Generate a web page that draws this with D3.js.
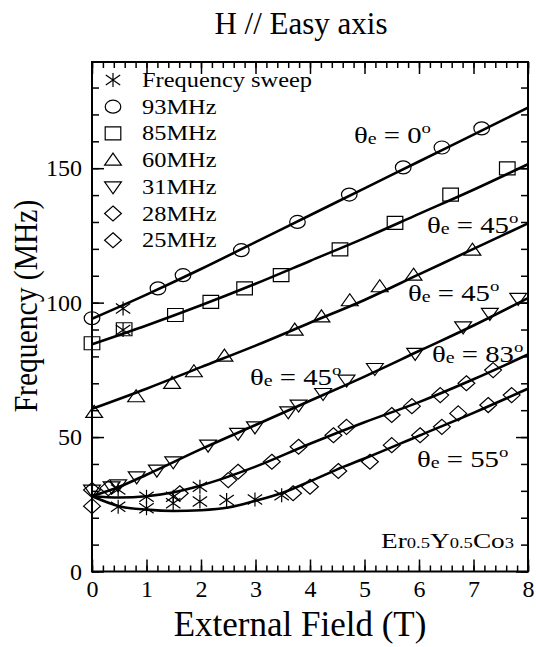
<!doctype html>
<html>
<head>
<meta charset="utf-8">
<script src="https://d3js.org/d3.v7.min.js"></script>
<style>
  body { margin: 0; background: #fff; }
  svg { display: block; font-family: "Liberation Serif", "Times New Roman", serif; }
</style>
</head>
<body>
<svg id="chart" width="536" height="647"></svg>
<script>
// points: [field (T), frequency (MHz)]
const sweep = [[0.48,30.5],[0.48,24.1],[0.57,97.8],[0.57,89.8],[1.0,27.8],[1.0,23.5],
  [1.49,27.8],[1.49,25.4],[1.98,31.5],[1.98,26],[2.47,26.6],[2.99,26.8],[3.48,28.4]];
const mhz93 = [[0,94.2],[1.21,105.3],[1.67,110.2],[2.74,119.5],[3.77,130],[4.72,140.2],
  [5.71,150.3],[6.42,157.7],[7.15,164.8]];
const mhz85 = [[0,84.9],[0.59,90.1],[1.53,95.4],[2.18,100.3],[2.8,105.3],[3.47,110.2],
  [4.55,119.8],[5.56,129.7],[6.58,140.2],[7.62,149.9]];
const mhz60 = [[0.04,59.2],[0.81,65],[1.47,70],[1.87,74.3],[2.43,80.1],[3.72,89.8],
  [4.21,94.7],[4.73,100.7],[5.28,105.9],[5.9,110.2],[6.98,119.5]];
const mhz31 = [[0,30.3],[0.36,31.5],[0.48,32.2],[0.82,35.2],[1.19,37.7],[1.49,40.8],[2.13,47],
  [2.68,51.4],[2.99,53.8],[3.6,59.4],[3.79,61.9],[4.24,66.2],[4.67,71.2],[5.19,75.5],
  [5.93,81.1],[6.81,91],[7.3,96],[7.82,101.6]];
const mhz28 = [[0,30.3],[0.3,31],[1.61,29.1],[2.5,34],[2.68,37.1],[3.3,40.8],[3.79,46.4],
  [4.43,50.7],[4.67,53.8],[5.5,58.2],[5.87,61.5],[6.39,65.6],[6.87,70],[7.36,74.9]];
const mhz25 = [[0,24.3],[3.69,29.1],[4.0,31.5],[4.52,37.4],[5.1,40.8],[5.5,47],[6.02,50.7],
  [6.42,53.8],[6.72,58.8],[7.27,61.9],[7.7,65.6]];

// calculated curves
const fit0   = [[0,94],[1,103],[2,112.5],[3,122.5],[4,132.5],[5,142.5],[6,152.5],[7,162.5],[8,172.5]];
const fit45a = [[0,84.5],[1,91.5],[2,99],[3,107],[4,115.5],[5,124],[6,133],[7,142],[8,151.5]];
const fit45b = [[0,60.5],[1,68],[2,76],[3,84],[4,92.5],[5,101],[6,110.5],[7,120],[8,129.5]];
const fit45c = [[0,28],[0.5,31.5],[1,36],[2,45.5],[3,54.5],[4,63.5],[5,72.5],[6,82],[7,91.5],[8,101.7]];
const fit83  = [[0,28],[0.5,27.5],[1,28],[1.5,29.5],[2,32],[3,39],[4,47.5],[5,55.5],[6,63],[7,71.5],[8,80.7]];
const fit55  = [[0,28],[0.5,24.3],[1,23],[1.5,22.5],[2,22.8],[2.5,23.8],[3,26.3],[3.5,29.3],
  [4,33.5],[4.5,38],[5,42],[6,50.5],[7,59],[8,68]];

const legendNames = ["Frequency sweep", "93MHz", "85MHz", "60MHz", "31MHz", "28MHz", "25MHz"];
const xMajor = [0,1,2,3,4,5,6,7,8];
const yMajor = [0,50,100,150];

const font = '"Liberation Serif", "Times New Roman", serif';
const svg = d3.select("#chart");
const plotL = 92, plotR = 528, plotT = 62, plotB = 571.5;

const x = d3.scaleLinear().domain([0, 8]).range([plotL, plotR]);
const y = d3.scaleLinear().domain([0, 189.5]).range([plotB, plotT]);

const shapes = {
  star: "M0,-7V7M-6,-5L6,5M-6,5L6,-5",
  circle: (() => { const p = d3.path(); p.arc(0, 0, 6.5, 0, 2 * Math.PI); p.closePath(); return p.toString(); })(),
  square: "M-6.5,-6.5H6.5V6.5H-6.5Z",
  up: "M0,-7L7,5L-7,5Z",
  down: "M0,7L7,-5L-7,-5Z",
  diamond: "M0,-7.5L7,0L0,7.5L-7,0Z"
};

const series = [
  { pts: sweep, shape: "star" },
  { pts: mhz93, shape: "circle" },
  { pts: mhz85, shape: "square" },
  { pts: mhz60, shape: "up" },
  { pts: mhz31, shape: "down" },
  { pts: mhz28, shape: "diamond" },
  { pts: mhz25, shape: "diamond" }
];

// curves
const line = d3.line().x(d => x(d[0])).y(d => y(d[1])).curve(d3.curveMonotoneX);
svg.append("g").selectAll("path")
  .data([fit0, fit45a, fit45b, fit45c, fit83, fit55])
  .join("path")
  .attr("d", line)
  .attr("fill", "none")
  .attr("stroke", "#000")
  .attr("stroke-width", 2.6);

// markers
function marker(sel, shape) {
  sel.append("path")
    .attr("d", shapes[shape])
    .attr("fill", "none")
    .attr("stroke", "#000")
    .attr("stroke-width", 1.2)
    .attr("vector-effect", "non-scaling-stroke");
}
series.forEach(s => {
  svg.append("g").selectAll("g")
    .data(s.pts)
    .join("g")
    .attr("transform", d => `translate(${x(d[0])},${y(d[1])}) scale(1.2,1)`)
    .each(function () { marker(d3.select(this), s.shape); });
});

// frame
svg.append("rect")
  .attr("x", plotL).attr("y", plotT)
  .attr("width", plotR - plotL).attr("height", plotB - plotT)
  .attr("fill", "none").attr("stroke", "#000").attr("stroke-width", 2);

// ticks, all pointing inward
function ticks(axis, pos, values, size) {
  svg.append("g").attr("transform", pos)
    .call(axis.tickValues(values).tickSize(size).tickFormat(""))
    .call(g => g.select(".domain").remove())
    .selectAll("line").attr("stroke-width", 1.5);
}
const xMinor = d3.range(0, 41).map(i => i / 5);
const yMinor = d3.range(0, 19).map(i => i * 10);
ticks(d3.axisBottom(x), `translate(0,${plotB})`, xMinor, -6);
ticks(d3.axisTop(x), `translate(0,${plotT})`, xMinor, -6);
ticks(d3.axisLeft(y), `translate(${plotL},0)`, yMinor, -7);
ticks(d3.axisRight(y), `translate(${plotR},0)`, yMinor, -7);
ticks(d3.axisTop(x), `translate(0,${plotT})`, xMajor, -12);
ticks(d3.axisRight(y), `translate(${plotR},0)`, yMajor, -12);

svg.append("g").attr("transform", `translate(0,${plotB})`)
  .call(d3.axisBottom(x).tickValues(xMajor).tickSize(-12).tickPadding(8).tickFormat(d3.format("d")))
  .call(g => g.select(".domain").remove())
  .attr("font-size", 24).attr("font-family", font)
  .call(g => g.selectAll("line").attr("stroke-width", 1.5));

svg.append("g").attr("transform", `translate(${plotL},0)`)
  .call(d3.axisLeft(y).tickValues(yMajor).tickSize(-12).tickPadding(10).tickFormat(d3.format("d")))
  .call(g => g.select(".domain").remove())
  .attr("font-size", 24).attr("font-family", font)
  .call(g => g.selectAll("line").attr("stroke-width", 1.5));

// titles
svg.append("text").attr("x", 301).attr("y", 34)
  .attr("text-anchor", "middle").attr("font-size", 31)
  .text("H // Easy axis");

svg.append("text").attr("x", 300).attr("y", 636)
  .attr("text-anchor", "middle").attr("font-size", 35)
  .text("External Field (T)");

svg.append("text")
  .attr("transform", "translate(37,306) rotate(-90) scale(0.87,1)")
  .attr("text-anchor", "middle").attr("font-size", 34)
  .text("Frequency (MHz)");

// legend
const legend = svg.append("g");
legendNames.forEach((name, i) => {
  const ly = 80 + i * 26.7;
  const g = legend.append("g").attr("transform", `translate(113,${ly}) scale(1.2,1)`);
  marker(g, series[i].shape);
  legend.append("text")
    .attr("transform", `translate(142,${ly + 7}) scale(1.22,1)`)
    .attr("font-size", 20)
    .text(name);
});

// angle labels
const angleLabels = [
  { x: 354, y: 143, deg: "0" },
  { x: 427, y: 233, deg: "45" },
  { x: 408, y: 301, deg: "45" },
  { x: 250, y: 385, deg: "45" },
  { x: 432, y: 362, deg: "83" },
  { x: 417, y: 467, deg: "55" }
];
angleLabels.forEach(a => {
  const t = svg.append("text")
    .attr("transform", `translate(${a.x},${a.y}) scale(1.25,1)`)
    .attr("font-size", 23);
  t.append("tspan").text("\u03b8");
  t.append("tspan").attr("font-size", 16).attr("dy", 1).text("e");
  t.append("tspan").attr("dy", -1).text(" = " + a.deg);
  t.append("tspan").attr("font-size", 15).attr("dy", -10).text("o");
});

// compound label
const comp = svg.append("text")
  .attr("transform", "translate(514,548) scale(1.24,1)")
  .attr("text-anchor", "end").attr("font-size", 22);
[["Er", 22], ["0.5", 15], ["Y", 22], ["0.5", 15], ["Co", 22], ["3", 15]]
  .forEach(([s, f]) => comp.append("tspan").attr("font-size", f).text(s));
</script>
</body>
</html>
